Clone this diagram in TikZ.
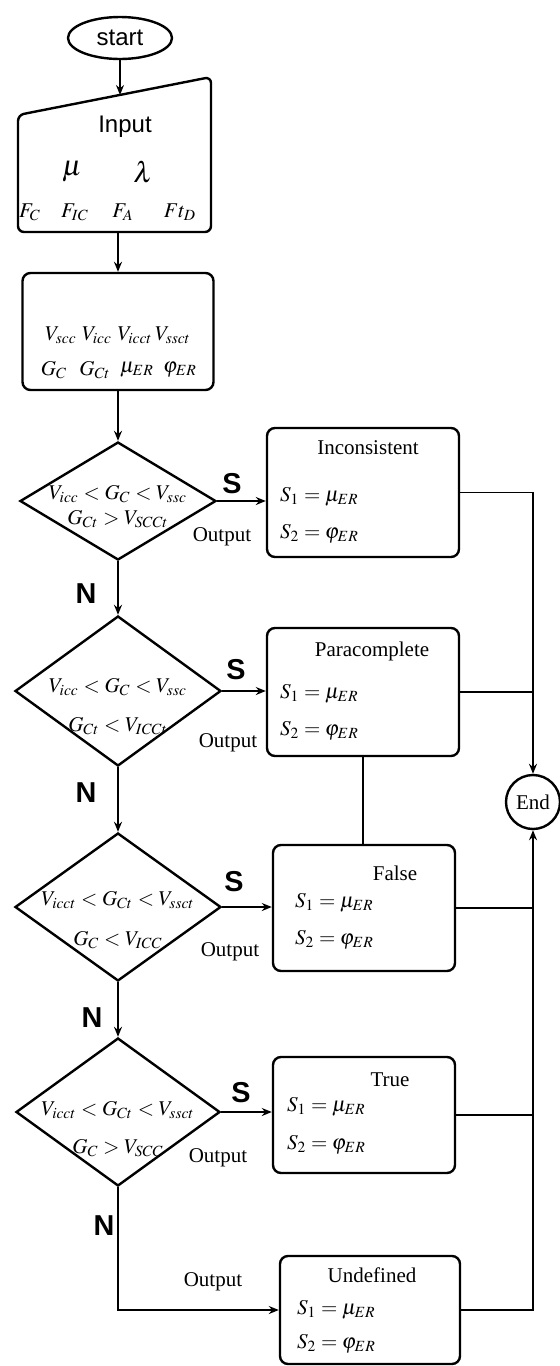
\documentclass[tikz,border=0pt]{standalone}
\usepackage{mathptmx}
\usepackage{fontspec}
\setmainfont{Liberation Serif}
\setsansfont{Liberation Sans}
\usetikzlibrary{shapes.geometric, arrows.meta, positioning}

\begin{document}
\begin{tikzpicture}[x=0.5pt,y=-0.5pt,>={Stealth[length=5pt,width=4pt]},
  every node/.style={font=\fontsize{10.5}{12}\selectfont},
  line/.style={line width=0.8pt},
  term/.style={draw,ellipse,line width=1.2pt,inner sep=0pt,font=\sffamily\large},
  test/.style={draw,diamond,line width=1.2pt,inner sep=0pt},
  outbox/.style={draw,rectangle,rounded corners=4pt,line width=1.2pt},
  yes/.style={font=\sffamily\bfseries\Large}]
  \useasboundingbox (0,0) rectangle (560,1366);
  % start and input
  \node[term,minimum width=52pt,minimum height=21pt] (start) at (120,38){start};
  \draw[line width=1.2pt,rounded corners=3pt](18,115)--(211,77)--(211,232)--(18,232)--cycle;
  \coordinate (intop) at (120,95);
  \coordinate (inbot) at (118,232);
  \node[font=\sffamily\large] (intitle) at (125,127){Input};
  \node (inmu) at (72,172){\Large$\mu$};
  \node (inlam) at (143,172){\Large$\lambda$};
  \foreach \x/\t [count=\i] in {30/F_C,75/F_{IC},123/F_A,180/Ft_D}{ \node (fin\i) at (\x,212){$\t$}; }
  % variables
  \node[outbox,minimum width=95.5pt,minimum height=58.5pt] (vars) at (118,331.5){};
  \foreach \x/\t [count=\i] in {61/V_{scc},97/V_{icc},135/V_{icct},173/V_{ssct}}{ \node (vr\i) at (\x,335){$\t$}; }
  \foreach \x/\t [count=\i] in {54/G_C,95/G_{Ct},137/\mu_{ER},180/\varphi_{ER}}{ \node (gr\i) at (\x,370){$\t$}; }
  % tests
  \node[test,minimum width=98pt,minimum height=59pt] (d1) at (118,501){};
  \node[test,minimum width=103pt,minimum height=75pt] (d2) at (118,691){};
  \node[test,minimum width=103pt,minimum height=74pt] (d3) at (118,907){};
  \node[test,minimum width=102pt,minimum height=74pt] (d4) at (118,1112){};
  \node (c1a) at (118,494){$V_{icc} < G_C < V_{ssc}$};
  \node (c1b) at (118,519){$G_{Ct} > V_{SCCt}$};
  \node (c2a) at (118,687){$V_{icc} < G_C < V_{ssc}$};
  \node (c2b) at (118,726){$G_{Ct} < V_{ICCt}$};
  \node (c3a) at (118,900){$V_{icct} < G_{Ct} < V_{ssct}$};
  \node (c3b) at (118,940){$G_C < V_{ICC}$};
  \node (c4a) at (118,1110){$V_{icct} < G_{Ct} < V_{ssct}$};
  \node (c4b) at (118,1148){$G_C > V_{SCC}$};
  % outputs
  \node[outbox,minimum width=96pt,minimum height=64.5pt] (b1) at (363,492.5){};
  \node[outbox,minimum width=96pt,minimum height=64pt] (b2) at (363,692){};
  \node[outbox,minimum width=91pt,minimum height=63pt] (b3) at (364,908){};
  \node[outbox,minimum width=91pt,minimum height=58pt] (b4) at (364,1115){};
  \node[outbox,minimum width=90pt,minimum height=54pt] (b5) at (370,1310){};
  \node (t1) at (368,448){Inconsistent};
  \node (t2) at (372,651){Paracomplete};
  \node (t3) at (395,873){False};
  \node (t4) at (390,1080){True};
  \node (t5) at (372,1275){Undefined};
  \foreach \n/\x/\ya/\yb in {1/273/497/534,2/273/694/731,3/288/903/940,4/280/1107/1145,5/290/1310/1344}{
    \node[anchor=west] (sa\n) at (\x,\ya){$S_1 = \mu_{ER}$};
    \node[anchor=west] (sb\n) at (\x,\yb){$S_2 = \varphi_{ER}$};
  }
  \node[draw,circle,line width=1.2pt,minimum size=27pt,inner sep=0pt] (endn) at (533,802){End};
  % labels
  \foreach \n/\xs/\ys/\xo/\yo in {1/232/484/222/537,2/236/670/228/743,3/234/882/230/952,4/241/1093/218/1158}{
    \node[yes] (sy\n) at (\xs,\ys){S};
    \node (out\n) at (\xo,\yo){Output};
  }
  \node (out5) at (213,1282){Output};
  \node[yes] (no1) at (86,594){N};
  \node[yes] (no2) at (86,793){N};
  \node[yes] (no3) at (92,1018){N};
  \node[yes] (no4) at (104,1226){N};
  % connectors
  \draw[line,->](start)--(intop);
  \draw[line,->](inbot)--(vars);
  \draw[line,->](vars)--(d1);
  \draw[line,->](d1)--(d2);
  \draw[line,->](d2)--(d3);
  \draw[line,->](d3)--(d4);
  \draw[line,->](d1.east)--(d1.east -| b1.west);
  \draw[line,->](d2.east)--(d2.east -| b2.west);
  \draw[line,->](d3.east)--(d3.east -| b3.west);
  \draw[line,->](d4.east)--(d4.east -| b4.west);
  \draw[line,->](d4.south)|-(b5.west);
  \draw[line](b2.south)--(b2.south |- b3.north);
  \draw[line,->](b1.east)-|(endn);
  \draw[line](b2.east)--(b2.east -| endn);
  \draw[line](b3.east)--(b3.east -| endn);
  \draw[line](b4.east)--(b4.east -| endn);
  \draw[line,->](b5.east)-|(endn);
\end{tikzpicture}
\end{document}
